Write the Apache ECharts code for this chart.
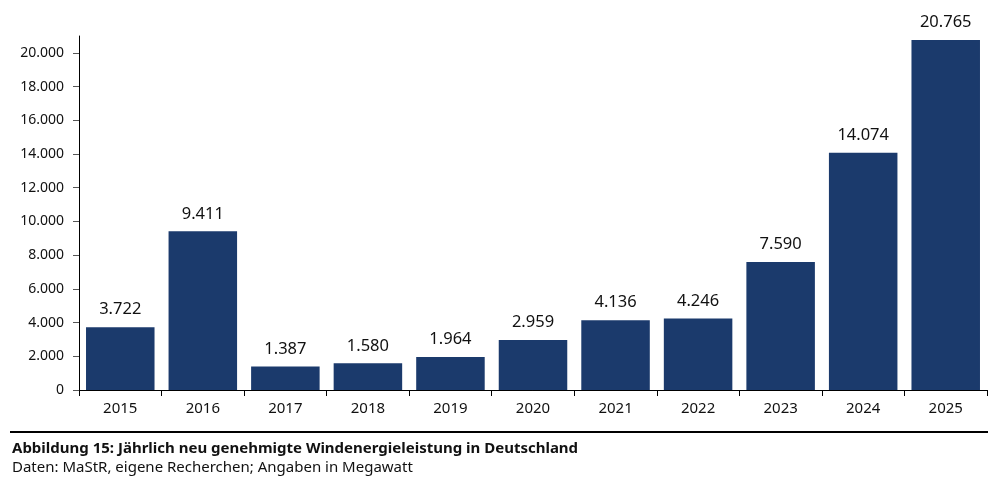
<!DOCTYPE html>
<html>
<head>
<meta charset="utf-8">
<script src="https://cdn.jsdelivr.net/npm/echarts@6/dist/echarts.min.js"></script>
<style>html,body{margin:0;padding:0;background:#fff}#c{width:999px;height:486px}</style>
</head>
<body>
<div id="c"></div>
<script>
const years = ['2015','2016','2017','2018','2019','2020','2021','2022','2023','2024','2025'];
const values = [3722, 9411, 1387, 1580, 1964, 2959, 4136, 4246, 7590, 14074, 20765];
const yTicks = [0, 2000, 4000, 6000, 8000, 10000, 12000, 14000, 16000, 18000, 20000];
const captionTitle = 'Abbildung 15: Jährlich neu genehmigte Windenergieleistung in Deutschland';
const captionSub = 'Daten: MaStR, eigene Recherchen; Angaben in Megawatt';

const fmt = v => String(v).replace(/\B(?=(\d{3})+(?!\d))/g, '.');
const FONT = '"Noto Sans", "Open Sans", sans-serif';

const chart = echarts.init(document.getElementById('c'));
chart.setOption({
  animation: false,
  textStyle: { fontFamily: FONT },
  grid: { left: 79, right: 12, top: 36, bottom: 96, containLabel: false },
  xAxis: {
    type: 'category',
    data: years,
    axisLine: { lineStyle: { color: '#000', width: 1 } },
    axisTick: { show: true, length: 6, lineStyle: { color: '#000' } },
    axisLabel: { color: '#111', fontSize: 15, margin: 11, fontFamily: FONT }
  },
  yAxis: {
    type: 'value',
    min: 0,
    max: 21000,
    interval: 1000,
    splitLine: { show: false },
    axisLine: { show: true, lineStyle: { color: '#000', width: 1 } },
    axisTick: { show: true, length: 6, customValues: yTicks, lineStyle: { color: '#555' } },
    axisLabel: { color: '#111', fontSize: 14, margin: 15, customValues: yTicks, formatter: v => fmt(v), fontFamily: FONT }
  },
  series: [{
    type: 'bar',
    data: values,
    barCategoryGap: '17%',
    itemStyle: { color: '#1b3a6c' },
    label: {
      show: true,
      position: 'top',
      distance: 9,
      color: '#111',
      fontSize: 16.5,
      fontFamily: FONT,
      formatter: p => fmt(p.value)
    }
  }],
  graphic: [
    { type: 'line', shape: { x1: 10, y1: 432, x2: 988, y2: 432 }, style: { stroke: '#000', lineWidth: 2 } },
    { type: 'text', left: 12, top: 441, style: { text: captionTitle, font: 'bold 15px ' + FONT, fill: '#111' } },
    { type: 'text', left: 12, top: 460, style: { text: captionSub, font: '15px ' + FONT, fill: '#111' } }
  ]
});
</script>
</body>
</html>
